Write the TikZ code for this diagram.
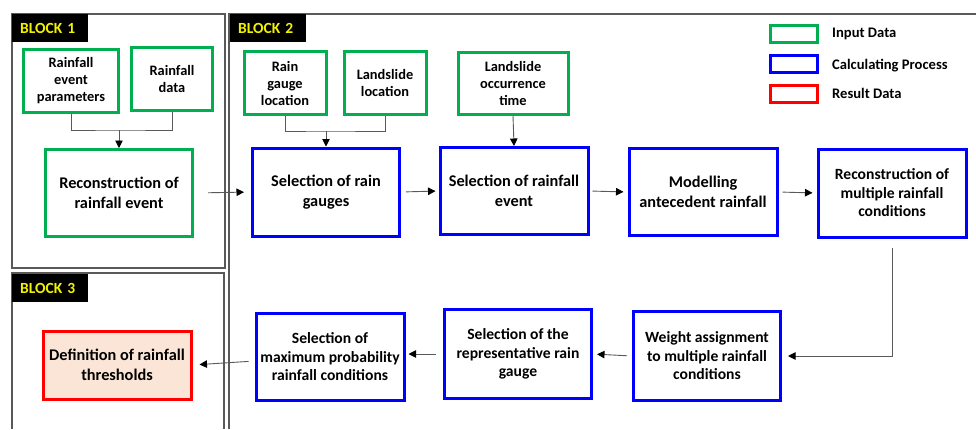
\documentclass[tikz,border=0pt]{standalone}
\usepackage{fontspec}
\setmainfont{Carlito}
\usepackage{xcolor}
\usetikzlibrary{arrows.meta}
\definecolor{ingreen}{HTML}{00B050}
\definecolor{calcblue}{HTML}{0000FF}
\definecolor{resred}{HTML}{FF0000}
\definecolor{respeach}{HTML}{FBE5D6}
\definecolor{linegray}{HTML}{595959}
\definecolor{blkyellow}{HTML}{F2F200}

\begin{document}
\begin{tikzpicture}[x=1pt,y=-1pt,
	box/.style={draw,line width=3pt,align=center,inner sep=1pt,font=\bfseries\fontsize{16.3}{20}\selectfont},
	inbox/.style={box,draw=ingreen},
	calcbox/.style={box,draw=calcblue},
	resbox/.style={box,draw=resred,fill=respeach},
	smalltxt/.style={font=\bfseries\fontsize{14.4}{17}\selectfont},
	midtxt/.style={font=\bfseries\fontsize{15.6}{18.5}\selectfont},
	blklabel/.style={fill=black,text=blkyellow,minimum width=73pt,minimum height=28pt,
		text width=60pt,align=left,inner xsep=8pt,font=\bfseries\fontsize{15.5}{16}\selectfont},
	legbox/.style={draw,line width=2.5pt,minimum width=47pt,minimum height=17pt,inner sep=0pt},
	legtxt/.style={anchor=west,inner sep=0pt,font=\bfseries\fontsize{14.6}{16}\selectfont},
	frame/.style={draw=linegray,line width=1.3pt},
	link/.style={draw=linegray,line width=0.9pt},
	arr/.style={link,-{Triangle[length=7.5pt,width=7.5pt,color=black]}}]
	\useasboundingbox (0,0) rectangle (976,429);
	\draw[frame] (12,14) rectangle (225,268);
	\draw[frame] (12,429) -- (12,273) -- (224,273) -- (224,429);
	\draw[frame] (229,429) -- (229,14) -- (976,14);
	\node[blklabel,anchor=north west] (blk1) at (12,14) {BLOCK 1};
	\node[blklabel,anchor=north west] (blk2) at (230,14) {BLOCK 2};
	\node[blklabel,anchor=north west] (blk3) at (12,274) {BLOCK 3};
	\node[legbox,draw=ingreen] (leg1) at (794,34) {};
	\node[legbox,draw=calcblue] (leg2) at (794,64) {};
	\node[legbox,draw=resred] (leg3) at (794,94) {};
	\node[legtxt] (legt1) at (832,34) {Input Data};
	\node[legtxt] (legt2) at (832,66) {Calculating Process};
	\node[legtxt] (legt3) at (832,93) {Result Data};
	\node[inbox,smalltxt,minimum width=95pt,minimum height=63pt] (evpar) at (71,81) {Rainfall\\event\\parameters};
	\node[inbox,smalltxt,minimum width=81pt,minimum height=63pt] (rdata) at (172,79) {Rainfall\\data};
	\node[inbox,minimum width=147pt,minimum height=87pt] (recev) at (119,193) {Reconstruction of\\rainfall event};
	\node[inbox,smalltxt,minimum width=82pt,minimum height=63pt] (gaugeloc) at (285,83) {Rain\\gauge\\location};
	\node[inbox,smalltxt,minimum width=82pt,minimum height=63pt] (slideloc) at (385,83) {Landslide\\location};
	\node[inbox,smalltxt,minimum width=110pt,minimum height=62pt] (slidetime) at (513,83) {Landslide\\occurrence\\time};
	\node[calcbox,minimum width=147pt,minimum height=88pt] (selgauge) at (326,192) {Selection of rain\\gauges};
	\node[calcbox,minimum width=148pt,minimum height=87pt] (selevent) at (514,191) {Selection of rainfall\\event};
	\node[calcbox,minimum width=148pt,minimum height=87pt] (antec) at (703,192) {Modelling\\antecedent rainfall};
	\node[calcbox,midtxt,minimum width=148pt,minimum height=88pt] (multcond) at (892,193) {Reconstruction of\\multiple rainfall\\conditions};
	\node[calcbox,midtxt,minimum width=147pt,minimum height=89pt] (weight) at (707,356) {Weight assignment\\to multiple rainfall\\conditions};
	\node[calcbox,midtxt,minimum width=147pt,minimum height=89pt] (repgauge) at (518,354) {Selection of the\\representative rain\\gauge};
	\node[calcbox,midtxt,minimum width=148pt,minimum height=87pt] (maxprob) at (330,357) {Selection of\\maximum probability\\rainfall conditions};
	\node[resbox,minimum width=148pt,minimum height=68pt] (thresh) at (117,365) {Definition of rainfall\\thresholds};
	\coordinate (j1) at (119,130);
	\coordinate (j2) at (326,131);
	\draw[link] (evpar.south) |- (j1) -| (rdata.south);
	\draw[arr] (j1) -- (recev.north);
	\draw[link] (gaugeloc.south) |- (j2) -| (slideloc.south);
	\draw[arr] (j2) -- (selgauge.north);
	\draw[arr] (slidetime.south) -- (selevent.north);
	\draw[arr,shorten <=14pt,shorten >=7pt] (recev.east) -- (selgauge.west);
	\draw[arr,shorten <=5pt,shorten >=3pt] (selgauge.east) -- (selevent.west);
	\draw[arr,shorten <=3pt,shorten >=4pt] (selevent.east) -- (antec.west);
	\draw[arr,shorten <=4pt,shorten >=4pt] (antec.east) -- (multcond.west);
	\draw[arr,shorten >=6pt] ([yshift=-9pt]multcond.south) |- (weight.east);
	\draw[arr,shorten <=5pt,shorten >=4pt] (weight.west) -- (repgauge.east);
	\draw[arr,shorten <=7pt,shorten >=3pt] (repgauge.west) -- (maxprob.east |- repgauge.west);
	\draw[arr,shorten <=6pt,shorten >=7pt] ([yshift=-4pt]maxprob.west) -- (thresh.east);
\end{tikzpicture}
\end{document}
